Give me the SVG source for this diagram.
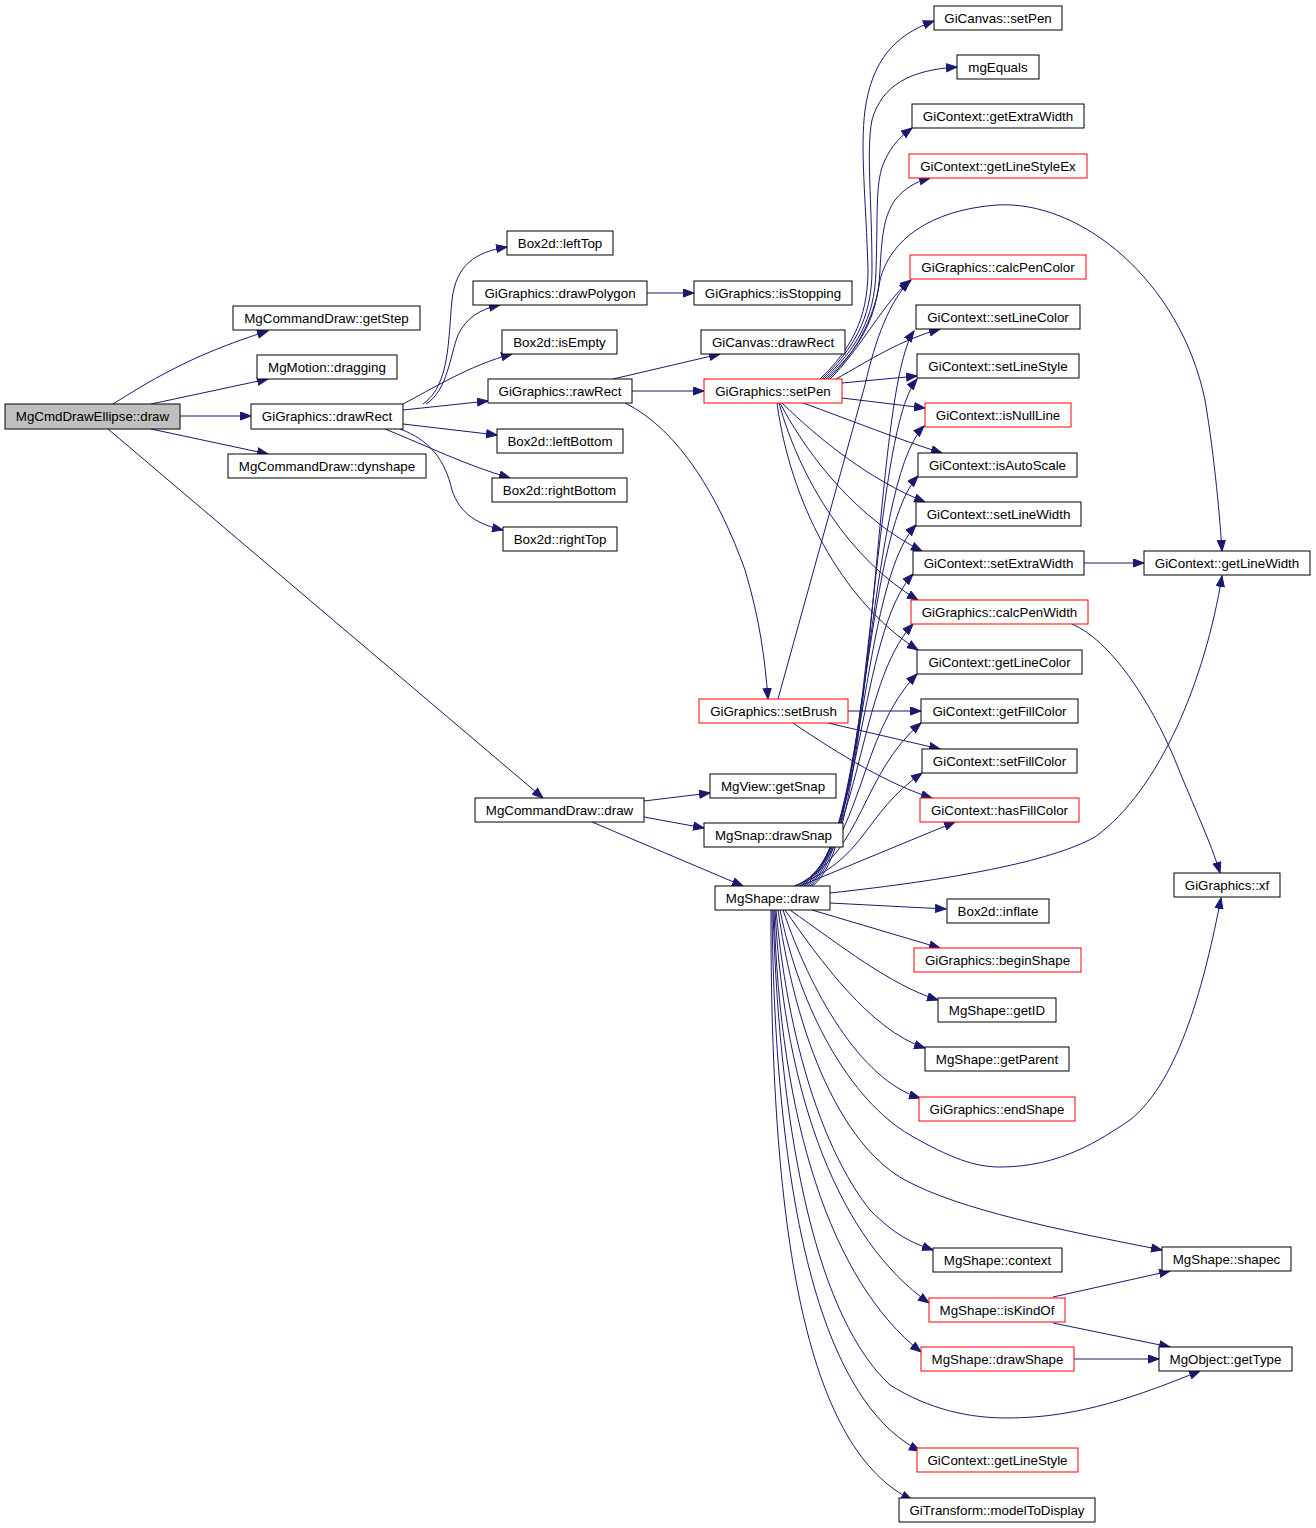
<svg xmlns="http://www.w3.org/2000/svg" width="1316" height="1528" viewBox="0 0 1316 1528">
<defs>
<marker id="ah" markerUnits="userSpaceOnUse" markerWidth="13" markerHeight="10" refX="11" refY="4.5" orient="auto">
<path d="M0.5,0.5 L11,4.5 L0.5,8.5 z" fill="#191970" stroke="#191970" stroke-width="1"/>
</marker>
<style>
.n rect{fill:#ffffff;stroke:#000000;stroke-width:1}
.n.r rect{stroke:#ff0000}
.n.root rect{fill:#bfbfbf}
.n text{font-family:"Liberation Sans",Arial,Helvetica,sans-serif;font-size:13.33px;fill:#000000;text-anchor:middle}
#edges path{fill:none;stroke:#191970;stroke-width:1;marker-end:url(#ah)}
</style>
</defs>
<rect x="0" y="0" width="1316" height="1528" fill="#ffffff"/>
<g id="edges">
<path d="M113,404 C145,384 190,355 268,331"/>
<path d="M151,404 L268,379"/>
<path d="M180,416 L251,416"/>
<path d="M151,429 L268,454"/>
<path d="M108,429 L543,798"/>
<path d="M423,404 C450,385 448,340 452,300 C456,265 475,252 507,247"/>
<path d="M426,404 C448,390 450,355 458,335 C466,318 480,309 500,305"/>
<path d="M403,404 C430,390 470,365 512,354"/>
<path d="M403,410 L488,401"/>
<path d="M403,424 L497,435"/>
<path d="M385,429 C425,445 465,465 510,478"/>
<path d="M400,429 C430,440 445,460 452,490 C460,515 480,525 503,530"/>
<path d="M647,293 L694,293"/>
<path d="M613,379 L720,354"/>
<path d="M632,391 L704,391"/>
<path d="M625,403 C680,430 720,500 745,570 C760,620 765,660 768,699"/>
<path d="M820,379 C850,350 868,320 868,270 C866,200 860,150 865,110 C872,60 895,35 934,21"/>
<path d="M822,379 C852,350 872,320 872,270 C872,200 866,150 872,120 C882,85 910,70 957,67"/>
<path d="M824,379 C855,350 875,320 876,270 C878,210 875,180 885,160 C892,145 900,137 912,128"/>
<path d="M826,379 C858,350 878,320 880,270 C882,230 885,215 895,200 C905,188 915,182 930,178"/>
<path d="M828,379 C860,350 876,310 880,280 C890,240 930,210 997,205 C1080,200 1180,280 1205,400 C1215,460 1220,520 1222,551"/>
<path d="M830,379 C860,350 885,300 911,280"/>
<path d="M836,379 C870,360 900,340 940,329"/>
<path d="M842,383 L917,376"/>
<path d="M842,398 L925,408"/>
<path d="M803,403 C850,420 900,440 942,453"/>
<path d="M782,403 C820,440 870,480 925,502"/>
<path d="M780,403 C810,460 860,520 922,551"/>
<path d="M779,403 C800,480 850,560 918,600"/>
<path d="M777,403 C790,500 840,600 918,650"/>
<path d="M1084,563 L1144,563"/>
<path d="M1072,624 C1110,640 1150,700 1175,760 C1195,810 1210,840 1220,873"/>
<path d="M778,699 L865,385 C875,340 890,300 910,281"/>
<path d="M848,711 L921,711"/>
<path d="M828,723 L940,749"/>
<path d="M793,723 C840,755 890,785 932,798"/>
<path d="M644,801 L710,793"/>
<path d="M644,817 L704,828"/>
<path d="M592,822 L743,886"/>
<path d="M812,886 C877,845 872,391 914,331"/>
<path d="M810,886 C873,845 868,439 917,379"/>
<path d="M808,886 C870,845 865,486 924,426"/>
<path d="M806,886 C867,845 862,536 918,476"/>
<path d="M804,886 C865,845 860,585 916,525"/>
<path d="M802,886 C863,845 858,634 913,574"/>
<path d="M800,886 C862,845 857,684 913,624"/>
<path d="M798,886 C863,845 858,734 917,674"/>
<path d="M796,886 C865,850 860,775 921,723"/>
<path d="M794,886 C867,860 862,815 922,773"/>
<path d="M800,886 L955,822"/>
<path d="M830,893 C950,880 1050,862 1095,837 C1160,790 1205,680 1222,576"/>
<path d="M830,903 L946,909"/>
<path d="M812,910 L940,948"/>
<path d="M790,910 C840,945 890,985 938,1000"/>
<path d="M785,910 C820,960 870,1030 925,1048"/>
<path d="M783,910 C810,990 860,1080 920,1098"/>
<path d="M780,910 C800,1010 850,1100 910,1135 C950,1158 975,1167 1000,1167 C1060,1167 1100,1140 1130,1120 C1180,1080 1205,980 1221,898"/>
<path d="M778,910 C800,1060 850,1150 905,1180 C960,1210 1060,1230 1162,1250"/>
<path d="M776,910 C790,1060 830,1160 870,1210 C895,1235 910,1242 933,1250"/>
<path d="M775,910 C785,1100 840,1240 929,1303"/>
<path d="M774,910 C780,1120 830,1280 921,1352"/>
<path d="M773,910 C780,1150 820,1320 890,1385 C930,1410 970,1418 1007,1418 C1080,1418 1140,1395 1200,1371"/>
<path d="M772,910 C775,1200 820,1400 920,1451"/>
<path d="M771,910 C770,1250 810,1450 912,1500"/>
<path d="M1053,1297 L1170,1271"/>
<path d="M1053,1323 L1170,1347"/>
<path d="M1074,1359 L1159,1359"/>
</g>
<g id="n_root" class="n root"><rect x="5" y="404" width="175" height="25"/><text x="92.5" y="421">MgCmdDrawEllipse::draw</text></g>
<g id="n_getStep" class="n"><rect x="233" y="306" width="187" height="24"/><text x="326.5" y="323">MgCommandDraw::getStep</text></g>
<g id="n_dragging" class="n"><rect x="257" y="355" width="140" height="24"/><text x="327" y="372">MgMotion::dragging</text></g>
<g id="n_drawRect" class="n"><rect x="251" y="404" width="152" height="25"/><text x="327" y="421">GiGraphics::drawRect</text></g>
<g id="n_dynshape" class="n"><rect x="228" y="454" width="198" height="24"/><text x="327" y="471">MgCommandDraw::dynshape</text></g>
<g id="n_leftTop" class="n"><rect x="507" y="231" width="106" height="24"/><text x="560" y="248">Box2d::leftTop</text></g>
<g id="n_drawPolygon" class="n"><rect x="473" y="281" width="174" height="24"/><text x="560" y="298">GiGraphics::drawPolygon</text></g>
<g id="n_isStopping" class="n"><rect x="694" y="281" width="158" height="24"/><text x="773" y="298">GiGraphics::isStopping</text></g>
<g id="n_isEmpty" class="n"><rect x="502" y="330" width="115" height="24"/><text x="559.5" y="347">Box2d::isEmpty</text></g>
<g id="n_canvasDrawRect" class="n"><rect x="701" y="330" width="144" height="24"/><text x="773" y="347">GiCanvas::drawRect</text></g>
<g id="n_rawRect" class="n"><rect x="488" y="379" width="144" height="24"/><text x="560" y="396">GiGraphics::rawRect</text></g>
<g id="n_setPen" class="n r"><rect x="704" y="379" width="138" height="24"/><text x="773" y="396">GiGraphics::setPen</text></g>
<g id="n_leftBottom" class="n"><rect x="497" y="429" width="126" height="24"/><text x="560" y="446">Box2d::leftBottom</text></g>
<g id="n_rightBottom" class="n"><rect x="492" y="478" width="135" height="24"/><text x="559.5" y="495">Box2d::rightBottom</text></g>
<g id="n_rightTop" class="n"><rect x="503" y="527" width="114" height="24"/><text x="560" y="544">Box2d::rightTop</text></g>
<g id="n_canvasSetPen" class="n"><rect x="934" y="6" width="128" height="24"/><text x="998" y="23">GiCanvas::setPen</text></g>
<g id="n_mgEquals" class="n"><rect x="957" y="55" width="82" height="24"/><text x="998" y="72">mgEquals</text></g>
<g id="n_getExtraWidth" class="n"><rect x="912" y="104" width="172" height="24"/><text x="998" y="121">GiContext::getExtraWidth</text></g>
<g id="n_getLineStyleEx" class="n r"><rect x="909" y="154" width="178" height="24"/><text x="998" y="171">GiContext::getLineStyleEx</text></g>
<g id="n_calcPenColor" class="n r"><rect x="910" y="255" width="176" height="24"/><text x="998" y="272">GiGraphics::calcPenColor</text></g>
<g id="n_setLineColor" class="n"><rect x="916" y="305" width="164" height="24"/><text x="998" y="322">GiContext::setLineColor</text></g>
<g id="n_setLineStyle" class="n"><rect x="917" y="354" width="162" height="24"/><text x="998" y="371">GiContext::setLineStyle</text></g>
<g id="n_isNullLine" class="n r"><rect x="925" y="403" width="146" height="24"/><text x="998" y="420">GiContext::isNullLine</text></g>
<g id="n_isAutoScale" class="n"><rect x="918" y="453" width="159" height="24"/><text x="997.5" y="470">GiContext::isAutoScale</text></g>
<g id="n_setLineWidth" class="n"><rect x="916" y="502" width="165" height="24"/><text x="998.5" y="519">GiContext::setLineWidth</text></g>
<g id="n_setExtraWidth" class="n"><rect x="913" y="551" width="171" height="24"/><text x="998.5" y="568">GiContext::setExtraWidth</text></g>
<g id="n_getLineWidth" class="n"><rect x="1144" y="551" width="166" height="24"/><text x="1227" y="568">GiContext::getLineWidth</text></g>
<g id="n_calcPenWidth" class="n r"><rect x="911" y="600" width="177" height="24"/><text x="999.5" y="617">GiGraphics::calcPenWidth</text></g>
<g id="n_getLineColor" class="n"><rect x="917" y="650" width="165" height="24"/><text x="999.5" y="667">GiContext::getLineColor</text></g>
<g id="n_setBrush" class="n r"><rect x="699" y="699" width="149" height="24"/><text x="773.5" y="716">GiGraphics::setBrush</text></g>
<g id="n_getFillColor" class="n"><rect x="921" y="699" width="157" height="24"/><text x="999.5" y="716">GiContext::getFillColor</text></g>
<g id="n_setFillColor" class="n"><rect x="922" y="749" width="155" height="24"/><text x="999.5" y="766">GiContext::setFillColor</text></g>
<g id="n_hasFillColor" class="n r"><rect x="920" y="798" width="159" height="24"/><text x="999.5" y="815">GiContext::hasFillColor</text></g>
<g id="n_cmdDraw" class="n"><rect x="475" y="798" width="169" height="24"/><text x="559.5" y="815">MgCommandDraw::draw</text></g>
<g id="n_getSnap" class="n"><rect x="710" y="774" width="126" height="24"/><text x="773" y="791">MgView::getSnap</text></g>
<g id="n_drawSnap" class="n"><rect x="704" y="823" width="139" height="24"/><text x="773.5" y="840">MgSnap::drawSnap</text></g>
<g id="n_shapeDraw" class="n"><rect x="715" y="886" width="115" height="24"/><text x="772.5" y="903">MgShape::draw</text></g>
<g id="n_xf" class="n"><rect x="1174" y="873" width="106" height="24"/><text x="1227" y="890">GiGraphics::xf</text></g>
<g id="n_inflate" class="n"><rect x="947" y="899" width="102" height="24"/><text x="998" y="916">Box2d::inflate</text></g>
<g id="n_beginShape" class="n r"><rect x="914" y="948" width="167" height="24"/><text x="997.5" y="965">GiGraphics::beginShape</text></g>
<g id="n_getID" class="n"><rect x="938" y="998" width="118" height="24"/><text x="997" y="1015">MgShape::getID</text></g>
<g id="n_getParent" class="n"><rect x="925" y="1047" width="144" height="24"/><text x="997" y="1064">MgShape::getParent</text></g>
<g id="n_endShape" class="n r"><rect x="919" y="1097" width="156" height="24"/><text x="997" y="1114">GiGraphics::endShape</text></g>
<g id="n_context" class="n"><rect x="933" y="1248" width="129" height="24"/><text x="997.5" y="1265">MgShape::context</text></g>
<g id="n_shapec" class="n"><rect x="1162" y="1247" width="129" height="24"/><text x="1226.5" y="1264">MgShape::shapec</text></g>
<g id="n_isKindOf" class="n r"><rect x="929" y="1298" width="136" height="24"/><text x="997" y="1315">MgShape::isKindOf</text></g>
<g id="n_drawShape" class="n r"><rect x="921" y="1347" width="153" height="24"/><text x="997.5" y="1364">MgShape::drawShape</text></g>
<g id="n_getType" class="n"><rect x="1159" y="1347" width="133" height="24"/><text x="1225.5" y="1364">MgObject::getType</text></g>
<g id="n_getLineStyle" class="n r"><rect x="917" y="1448" width="161" height="24"/><text x="997.5" y="1465">GiContext::getLineStyle</text></g>
<g id="n_modelToDisplay" class="n"><rect x="899" y="1498" width="196" height="24"/><text x="997" y="1515">GiTransform::modelToDisplay</text></g>
</svg>
